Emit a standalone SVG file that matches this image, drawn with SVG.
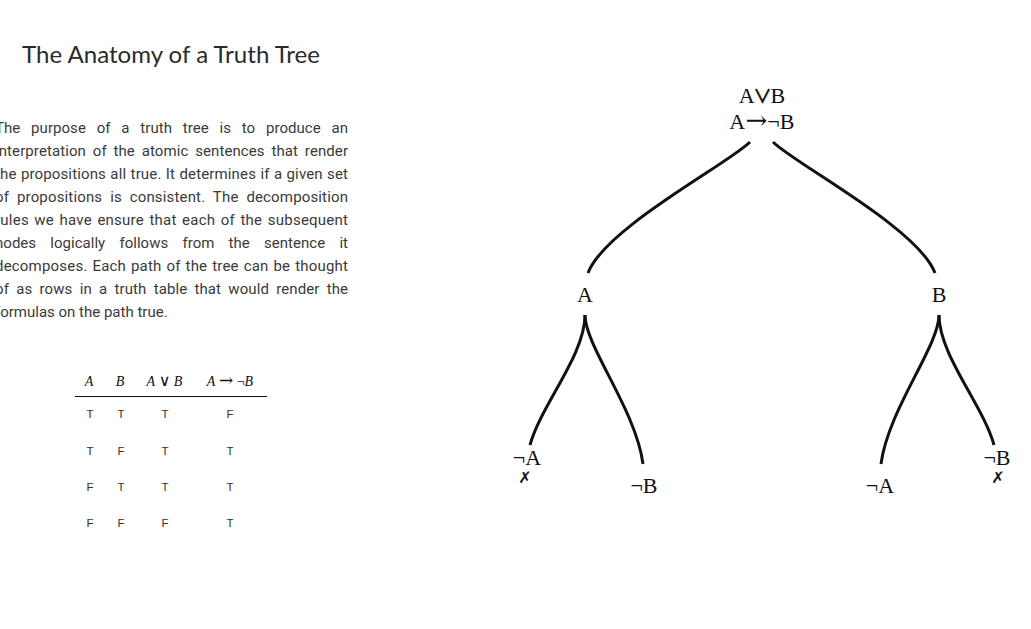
<svg xmlns="http://www.w3.org/2000/svg" width="1031" height="629" viewBox="0 0 1031 629">
<style>
.title{font-family:Lato,"Open Sans","Liberation Sans",sans-serif;font-size:24px;fill:#2b2b2b}
.para{font-family:Roboto,"Liberation Sans",sans-serif;font-size:15px;fill:#3a3a3a}
.th{font-family:"Liberation Serif","DejaVu Serif",serif;font-size:14px;fill:#111;text-anchor:middle}
.td{font-family:"Liberation Sans",Arial,sans-serif;font-size:11.5px;fill:#333;text-anchor:middle}
.node{font-family:"Liberation Serif","DejaVu Serif",serif;font-size:22px;fill:#111;text-anchor:middle}
.root{font-family:"Liberation Serif","DejaVu Serif",serif;font-size:22px;fill:#111}
.sym{font-family:"DejaVu Serif",serif}
.or{font-family:"Noto Sans CJK JP","DejaVu Serif",serif;stroke:#111;stroke-width:0.7}
.x{font-family:"DejaVu Sans",sans-serif;font-size:16px;fill:#111;text-anchor:middle;font-weight:bold}
.edge{fill:none;stroke:#111;stroke-width:3;stroke-linecap:butt}
</style>
<rect width="1031" height="629" fill="#ffffff"/>
<text class="title" x="22" y="63" textLength="298" lengthAdjust="spacingAndGlyphs">The Anatomy of a Truth Tree</text>
<g id="paragraph" class="para">
<text x="-5" y="133" word-spacing="7" textLength="353" lengthAdjust="spacing">The purpose of a truth tree is to produce an</text>
<text x="-5" y="156" word-spacing="3" textLength="353" lengthAdjust="spacing">interpretation of the atomic sentences that render</text>
<text x="-5" y="179" word-spacing="0.5" textLength="353" lengthAdjust="spacing">the propositions all true. It determines if a given set</text>
<text x="-5" y="202" word-spacing="4" textLength="353" lengthAdjust="spacing">of propositions is consistent. The decomposition</text>
<text x="-5" y="225" word-spacing="1.5" textLength="353" lengthAdjust="spacing">rules we have ensure that each of the subsequent</text>
<text x="-5" y="248" word-spacing="10.5" textLength="353" lengthAdjust="spacing">nodes logically follows from the sentence it</text>
<text x="-5" y="271" word-spacing="1" textLength="353" lengthAdjust="spacing">decomposes. Each path of the tree can be thought</text>
<text x="-5" y="294" word-spacing="3.5" textLength="353" lengthAdjust="spacing">of as rows in a truth table that would render the</text>
<text x="-5" y="317">formulas on the path true.</text>
</g>
<g id="truth-table">
<text class="th" x="89" y="386" font-style="italic">A</text>
<text class="th" x="120" y="386" font-style="italic">B</text>
<text class="th" x="164.5" y="386"><tspan font-style="italic">A</tspan> <tspan class="sym" font-size="16">∨</tspan> <tspan font-style="italic">B</tspan></text>
<text class="th" x="230" y="386"><tspan font-style="italic">A</tspan> <tspan class="sym" font-size="17">→</tspan> ¬<tspan font-style="italic">B</tspan></text>
<line x1="75" y1="396.5" x2="267" y2="396.5" stroke="#111" stroke-width="1"/>
<g class="td">
<text x="90" y="418">T</text><text x="121" y="418">T</text><text x="165" y="418">T</text><text x="230" y="418">F</text>
<text x="90" y="454.5">T</text><text x="121" y="454.5">F</text><text x="165" y="454.5">T</text><text x="230" y="454.5">T</text>
<text x="90" y="491">F</text><text x="121" y="491">T</text><text x="165" y="491">T</text><text x="230" y="491">T</text>
<text x="90" y="527">F</text><text x="121" y="527">F</text><text x="165" y="527">F</text><text x="230" y="527">T</text>
</g>
</g>
<g id="connectors">
<path class="edge" d="M750,142 C728,164 605,228 588,273"/>
<path class="edge" d="M773,142 C795,164 918,228 935,273"/>
<path class="edge" d="M585,315 C585,355 541,405 530,445"/>
<path class="edge" d="M585,315 C585,346 636,410 643,464"/>
<path class="edge" d="M939,315 C939,346 888,410 881,464"/>
<path class="edge" d="M939,315 C939,355 983,405 994,445"/>
</g>
<g id="node-root">
<text class="root" x="762" y="103" text-anchor="middle">A<tspan class="or" font-size="18" dx="-1">∨</tspan><tspan dx="-1">B</tspan></text>
<text class="root" x="729.3" y="129">A<tspan class="sym" font-size="26" dx="0.3">→</tspan>¬B</text>
</g>
<g id="node-A"><text class="node" x="585" y="302">A</text></g>
<g id="node-B"><text class="node" x="939" y="302">B</text></g>
<g id="node-notA-1"><text class="node" x="527" y="465">¬A</text><text class="x" x="525" y="483">✗</text></g>
<g id="node-notB-1"><text class="node" x="644" y="493">¬B</text></g>
<g id="node-notA-2"><text class="node" x="880" y="493">¬A</text></g>
<g id="node-notB-2"><text class="node" x="997" y="465">¬B</text><text class="x" x="998" y="483">✗</text></g>
</svg>
